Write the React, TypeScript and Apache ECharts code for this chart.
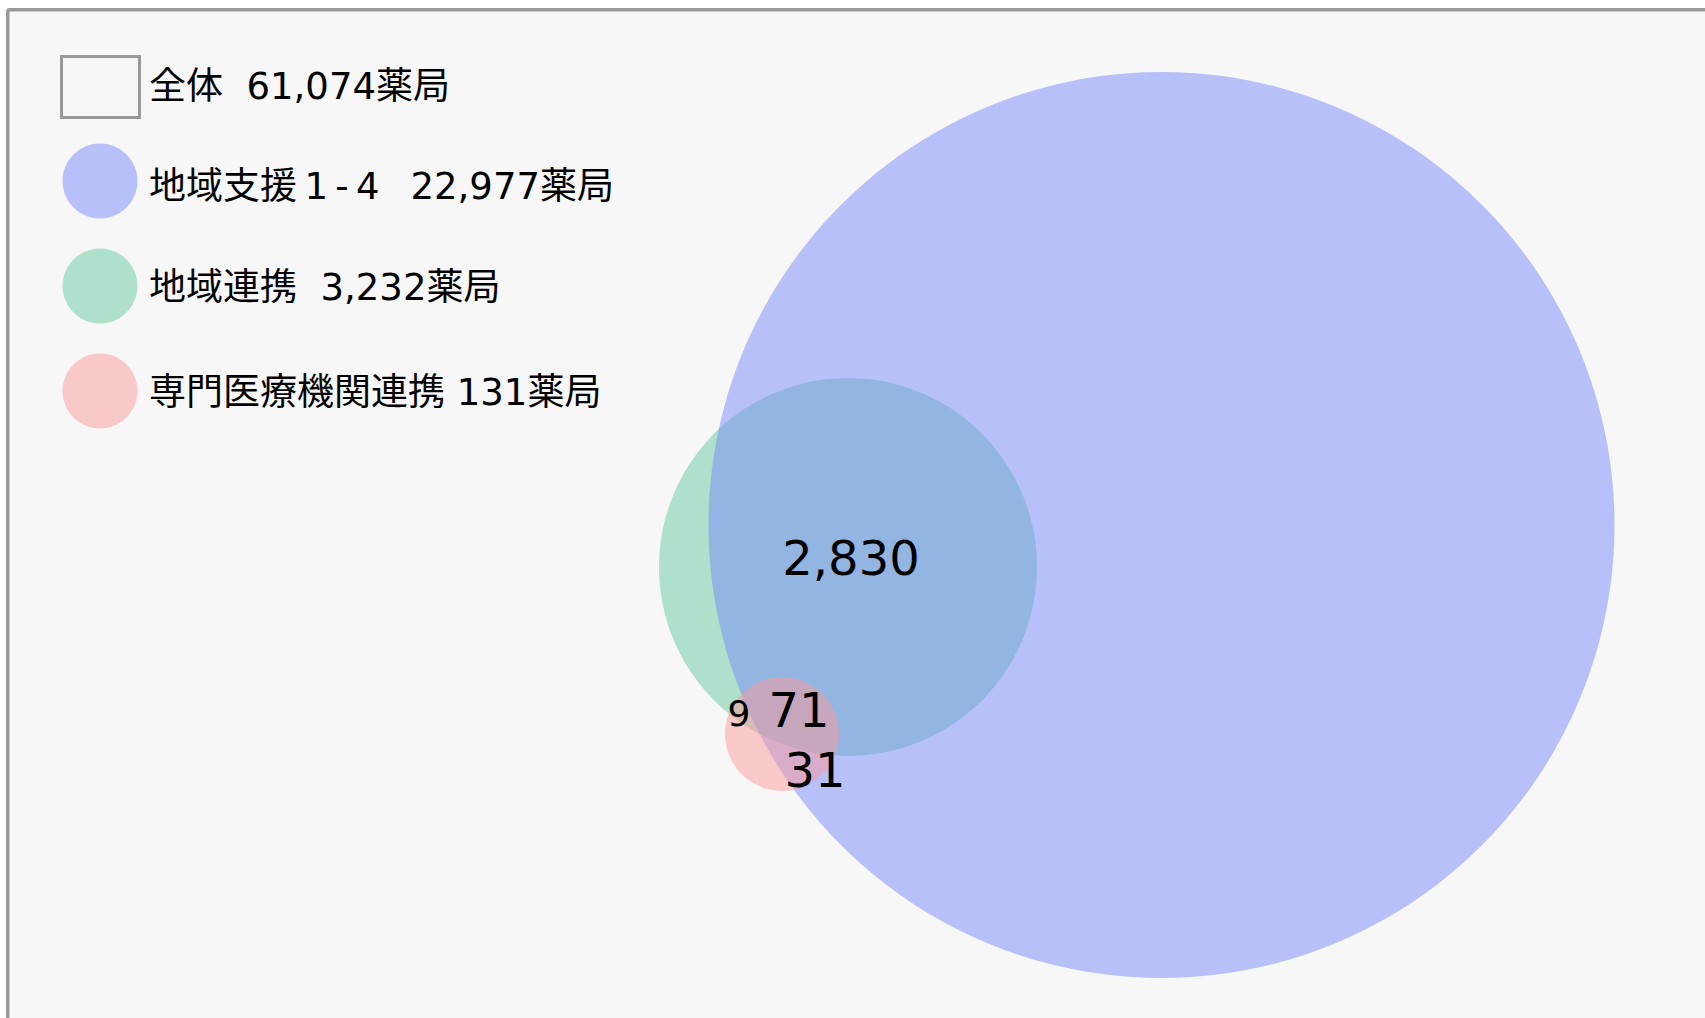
import React, { useEffect, useRef } from "react";
import * as echarts from "echarts";

// ---- data ----
const categories = ["全体", "地域支援\u20091\u2009-\u20094", "地域連携", "専門医療機関連携"];
const counts = [61074, 22977, 3232, 131];
const legendGaps = ["\u00a0\u00a0", "\u00a0\u00a0\u2009", "\u00a0\u00a0", " "];
const unit = "薬局";

// overlap region counts (labels inside the diagram)
const regionValues = [2830, 71, 9, 31];

// venn layout in diagram units (index 1..3 of categories)
const circleCx = [1161.5, 848, 782];
const circleCy = [525, 567, 734];
const circleR = [453, 189, 57];
const drawOrder = [1, 0, 2]; // 地域連携 under 地域支援, 専門 on top

const regionX = [851, 799, 739, 815];
const regionY = [558, 710, 713, 770];
const regionFont = [48, 48, 36, 48];

const circleColors = [
  "rgba(119,137,249,0.5)",
  "rgba(101,201,159,0.5)",
  "rgba(251,153,153,0.5)",
];

const W = 1705;
const H = 1018;
const FONT = '"DejaVu Sans", "Noto Sans CJK JP", sans-serif';

export default function App() {
  const ref = useRef<HTMLDivElement>(null);
  useEffect(() => {
    if (!ref.current) return;
    const chart = echarts.init(ref.current, null, { renderer: "svg" });

    const circleData = drawOrder.map((i) => ({
      value: [circleCx[i], circleCy[i], circleR[i], i],
    }));

    const regionData = regionValues.map((v, i) => ({
      value: [regionX[i], regionY[i]],
      label: {
        show: true,
        position: "inside",
        formatter: v.toLocaleString("en-US"),
        fontSize: regionFont[i],
        fontFamily: FONT,
        color: "#000",
        textBorderWidth: 0,
        opacity: 1,
      },
    }));

    const legendY = [87, 181, 286, 391];
    const legendTextY = [86, 186, 287, 392];
    const legendEls: any[] = [];
    categories.forEach((c, i) => {
      if (i === 0) {
        legendEls.push({
          type: "rect",
          shape: { x: 61.5, y: 56.5, width: 78, height: 61 },
          style: { fill: "none", stroke: "#999", lineWidth: 3 },
          z: 5,
        });
      } else {
        legendEls.push({
          type: "circle",
          shape: { cx: 100, cy: legendY[i], r: 37.5 },
          style: { fill: circleColors[i - 1] },
          z: 5,
        });
      }
      legendEls.push({
        type: "text",
        x: 149,
        y: legendTextY[i],
        style: {
          text: c + legendGaps[i] + counts[i].toLocaleString("en-US") + unit,
          font: `37px ${FONT}`,
          fill: "#000",
          verticalAlign: "middle",
          align: "left",
        },
        z: 5,
      });
    });

    chart.setOption({
      animation: false,
      backgroundColor: "#ffffff",
      grid: { left: 0, right: 0, top: 0, bottom: 0 },
      xAxis: { type: "value", min: 0, max: W, show: false },
      yAxis: { type: "value", min: 0, max: H, inverse: true, show: false },
      graphic: [
        {
          type: "rect",
          shape: { x: 7.75, y: 9.75, width: 3000, height: 3000, r: 2 },
          style: { fill: "#f7f7f7", stroke: "#9a9a9a", lineWidth: 3.5 },
          z: -10,
          silent: true,
        },
        ...legendEls,
      ],
      series: [
        {
          type: "custom",
          coordinateSystem: "cartesian2d",
          z: 2,
          data: circleData,
          renderItem: (params: any, api: any) => {
            const c = api.coord([api.value(0), api.value(1)]);
            const rr = api.size([api.value(2), 0])[0];
            const idx = api.value(3);
            return {
              type: "circle",
              shape: { cx: c[0], cy: c[1], r: rr },
              style: { fill: circleColors[idx] },
            };
          },
          silent: true,
        },
        {
          type: "scatter",
          z: 3,
          symbolSize: 0,
          itemStyle: { opacity: 1 },
          data: regionData,
          silent: true,
        },
      ],
    });
    return () => chart.dispose();
  }, []);
  return (
    <div
      ref={ref}
      style={{ position: "fixed", left: 0, top: 0, width: W, height: H }}
    />
  );
}
